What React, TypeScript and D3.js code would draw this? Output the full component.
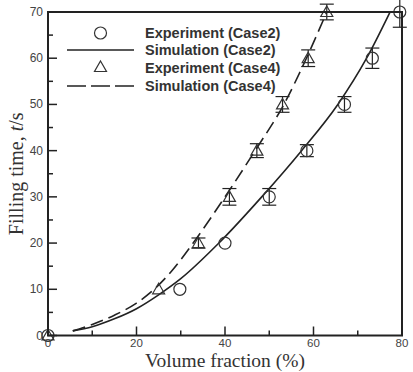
import * as d3 from "d3";

const case2X = [0, 29.8, 40, 50, 58.5, 67, 73.3, 79.5];
const case2T = [0, 10, 20, 30, 40, 50, 60, 70];
const case2Err = [0, 0, 0, 1.8, 1.3, 1.7, 2.2, 3.3];

const case4X = [0, 25, 34, 41, 47.2, 53, 58.8, 63];
const case4T = [0, 10, 20, 30, 40, 50, 60, 70];
const case4Err = [0, 0, 1.1, 1.8, 1.5, 1.7, 1.8, 1.7];

// simulation curves
const sim2X = [5.6, 10, 15, 20, 25, 30, 38.4, 48.3, 57.3, 65.5, 72, 77.3];
const sim2T = [1.0, 1.9, 3.6, 5.8, 8.8, 12.3, 19.8, 30, 40, 50, 60, 70];
const sim4X = [5.6, 10, 15, 20, 24, 28, 32.8, 40, 46.8, 53.3, 58.4, 63];
const sim4T = [1.0, 2.4, 4.4, 7.0, 10.0, 14.0, 20, 30, 40, 50, 60, 70];

const xTicks = [0, 20, 40, 60, 80];
const yTicks = [0, 10, 20, 30, 40, 50, 60, 70];

const legendLabels = [
  "Experiment (Case2)",
  "Simulation (Case2)",
  "Experiment (Case4)",
  "Simulation (Case4)",
];

const W = 413;
const H = 372;
const left = 48, right = 402, top = 12, bottom = 335.5;

export default function App() {
  const x = d3.scaleLinear([0, 80], [left, right]);
  const y = d3.scaleLinear([0, 70], [bottom, top]);

  const makePath = (xs: number[], ts: number[]) =>
    d3
      .line<[number, number]>()
      .x((d) => x(d[0]))
      .y((d) => y(d[1]))
      .curve(d3.curveMonotoneX)(xs.map((v, i) => [v, ts[i]])) || "";

  const minorX = d3.range(10, 80, 20);
  const minorY = d3.range(5, 70, 10);

  const tri = (cx: number, cy: number, s = 6) =>
    `M${cx},${cy - s} L${cx + s},${cy + s * 0.75} L${cx - s},${cy + s * 0.75} Z`;

  const errBar = (cx: number, t: number, e: number, k: string) =>
    e > 0 ? (
      <g key={k} stroke="#222" strokeWidth={1.2}>
        <line x1={cx} x2={cx} y1={y(t + e)} y2={y(t - e)} />
        <line x1={cx - 7} x2={cx + 7} y1={y(t + e)} y2={y(t + e)} />
        <line x1={cx - 7} x2={cx + 7} y1={y(t - e)} y2={y(t - e)} />
      </g>
    ) : null;

  const tickFont = "Liberation Sans, Arial, sans-serif";
  const legendRows = [33, 50, 68, 86];

  return (
    <svg
      width={W}
      height={H}
      style={{ position: "absolute", left: 0, top: 0, background: "#fff" }}
    >
      {/* simulation curves */}
      <path d={makePath(sim2X, sim2T)} fill="none" stroke="#222" strokeWidth={1.6} />
      <path
        d={makePath(sim4X, sim4T)}
        fill="none"
        stroke="#222"
        strokeWidth={1.6}
        strokeDasharray="13,6"
      />

      {/* error bars */}
      {case2X.map((v, i) => errBar(x(v), case2T[i], case2Err[i], "e2" + i))}
      {case4X.map((v, i) => errBar(x(v), case4T[i], case4Err[i], "e4" + i))}

      {/* markers */}
      {case2X.map((v, i) => (
        <circle key={"c" + i} cx={x(v)} cy={y(case2T[i])} r={6} fill="none" stroke="#333" strokeWidth={1.2} />
      ))}
      {case4X.map((v, i) => (
        <path key={"t" + i} d={tri(x(v), y(case4T[i]))} fill="none" stroke="#333" strokeWidth={1.2} />
      ))}

      {/* frame */}
      <rect x={left} y={top} width={right - left} height={bottom - top} fill="none" stroke="#222" strokeWidth={2} />

      {/* ticks */}
      {yTicks.map((t) => (
        <line key={"yt" + t} x1={left} x2={left + 9} y1={y(t)} y2={y(t)} stroke="#222" strokeWidth={1.5} />
      ))}
      {minorY.map((t) => (
        <line key={"ym" + t} x1={left} x2={left + 5} y1={y(t)} y2={y(t)} stroke="#222" strokeWidth={1.5} />
      ))}
      {xTicks.map((t) => (
        <line key={"xt" + t} x1={x(t)} x2={x(t)} y1={bottom} y2={bottom - 9} stroke="#222" strokeWidth={1.5} />
      ))}
      {minorX.map((t) => (
        <line key={"xm" + t} x1={x(t)} x2={x(t)} y1={bottom} y2={bottom - 5} stroke="#222" strokeWidth={1.5} />
      ))}

      {/* tick labels */}
      {yTicks.map((t) => (
        <text key={"yl" + t} x={left - 5} y={y(t) + 4} textAnchor="end" fontFamily={tickFont} fontSize={12} fill="#444">
          {t}
        </text>
      ))}
      {xTicks.map((t) => (
        <text key={"xl" + t} x={x(t)} y={346.5} textAnchor="middle" fontFamily={tickFont} fontSize={11.5} fill="#444">
          {t}
        </text>
      ))}

      {/* axis titles */}
      <text x={(left + right) / 2} y={367} textAnchor="middle" fontFamily="Liberation Serif, Times New Roman, serif" fontSize={19.5} fill="#333">
        Volume fraction (%)
      </text>
      <text
        transform={`translate(23,${(top + bottom) / 2}) rotate(-90)`}
        textAnchor="middle"
        fontFamily="Liberation Serif, Times New Roman, serif"
        fontSize={20}
        fill="#333"
      >
        Filling time, <tspan fontStyle="italic">t</tspan>/s
      </text>

      {/* legend */}
      <circle cx={100.5} cy={legendRows[0]} r={6} fill="none" stroke="#333" strokeWidth={1.2} />
      <line x1={67} x2={134} y1={legendRows[1]} y2={legendRows[1]} stroke="#222" strokeWidth={1.6} />
      <path d={tri(100.5, legendRows[2] - 1)} fill="none" stroke="#333" strokeWidth={1.2} />
      <line x1={67} x2={134} y1={legendRows[3]} y2={legendRows[3]} stroke="#222" strokeWidth={1.6} strokeDasharray="19,5" />
      {legendLabels.map((s, i) => (
        <text
          key={s}
          x={145}
          y={legendRows[i] + 4.5}
          fontFamily={tickFont}
          fontWeight="bold"
          fontSize={14.5}
          fill="#333"
        >
          {s}
        </text>
      ))}
    </svg>
  );
}
